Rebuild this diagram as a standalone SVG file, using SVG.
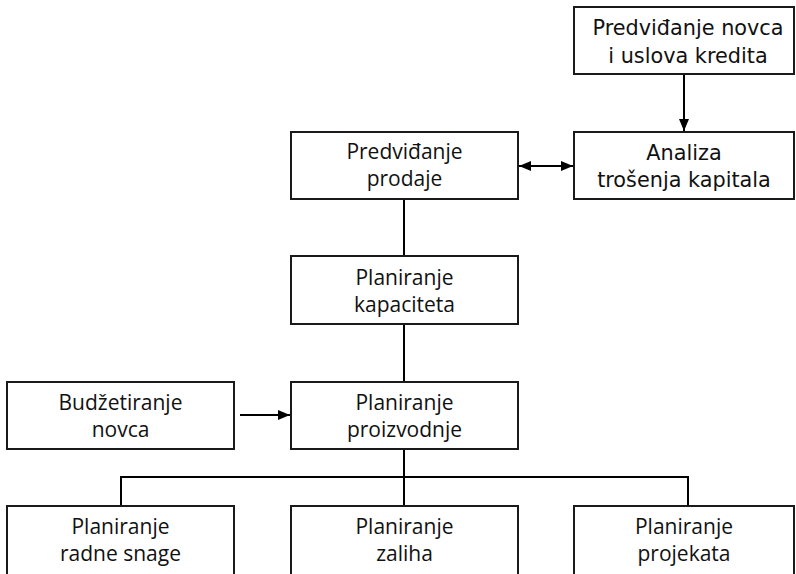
<svg xmlns="http://www.w3.org/2000/svg" width="796" height="574" viewBox="0 0 796 574">
<style>
.box{fill:#fff;stroke:#1a1a1a;stroke-width:2}
.t{font-family:"Open Sans","Noto Sans",sans-serif;font-size:21px;fill:#111;text-anchor:middle}
.t2{font-family:"DejaVu Sans","Noto Sans",sans-serif;font-size:20.8px;fill:#111;text-anchor:middle}
.c{fill:none;stroke:#000;stroke-width:2}
</style>
<defs>
<marker id="ah" viewBox="0 0 12 10" refX="12" refY="5" markerWidth="12" markerHeight="10" markerUnits="userSpaceOnUse" orient="auto-start-reverse">
<path d="M0,0 L12,5 L0,10 z" fill="#000"/>
</marker>
</defs>
<rect width="796" height="574" fill="#fff"/>
<g id="connectors">
<line class="c" x1="684" y1="74" x2="684" y2="131" marker-end="url(#ah)"/>
<line class="c" x1="519" y1="166" x2="573" y2="166" marker-start="url(#ah)" marker-end="url(#ah)"/>
<line class="c" x1="404" y1="199" x2="404" y2="256"/>
<line class="c" x1="404" y1="324" x2="404" y2="382"/>
<line class="c" x1="240" y1="415" x2="290" y2="415" marker-end="url(#ah)"/>
<line class="c" x1="404" y1="449" x2="404" y2="506"/>
<polyline class="c" points="121,506 121,477 688,477 688,506"/>
</g>
<g id="n_kredit"><rect class="box" x="574" y="7" width="220" height="67"/><text class="t2" x="688" y="35">Predviđanje novca</text><text class="t2" x="688" y="63">i uslova kredita</text></g>
<g id="n_analiza"><rect class="box" x="574" y="132" width="220" height="67"/><text class="t2" x="684" y="160">Analiza</text><text class="t2" x="684" y="187">trošenja kapitala</text></g>
<g id="n_prodaja"><rect class="box" x="291" y="132" width="227" height="67"/><text class="t" x="404.5" y="159">Predviđanje</text><text class="t" x="404.5" y="186">prodaje</text></g>
<g id="n_kapacitet"><rect class="box" x="291" y="256" width="227" height="68"/><text class="t" x="404.5" y="285">Planiranje</text><text class="t" x="404.5" y="312">kapaciteta</text></g>
<g id="n_budzet"><rect class="box" x="7" y="382" width="227" height="67"/><text class="t" x="120.5" y="410">Budžetiranje</text><text class="t" x="120.5" y="437">novca</text></g>
<g id="n_proizvodnja"><rect class="box" x="291" y="382" width="227" height="67"/><text class="t" x="404.5" y="410">Planiranje</text><text class="t" x="404.5" y="437">proizvodnje</text></g>
<g id="n_radna"><rect class="box" x="7" y="506" width="227" height="70"/><text class="t" x="120.5" y="534">Planiranje</text><text class="t" x="120.5" y="561">radne snage</text></g>
<g id="n_zalihe"><rect class="box" x="291" y="506" width="227" height="70"/><text class="t" x="404.5" y="534">Planiranje</text><text class="t" x="404.5" y="561">zaliha</text></g>
<g id="n_projekti"><rect class="box" x="574" y="506" width="220" height="70"/><text class="t" x="684" y="534">Planiranje</text><text class="t" x="684" y="561">projekata</text></g>
</svg>
